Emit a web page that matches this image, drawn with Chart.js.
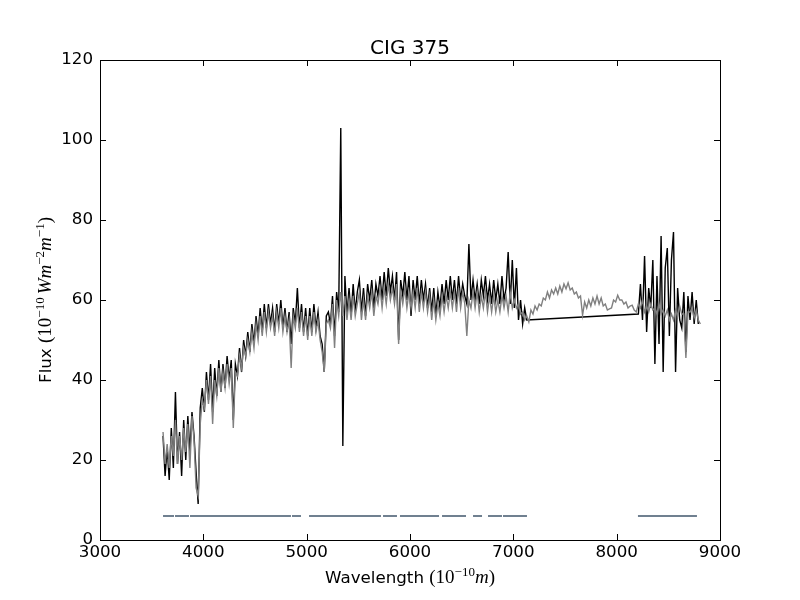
<!DOCTYPE html>
<html>
<head>
<meta charset="utf-8">
<script src="https://cdn.jsdelivr.net/npm/chart.js@4.4.1/dist/chart.umd.min.js"></script>
<style>
  html, body { margin: 0; padding: 0; background: #ffffff; }
  #c { display: block; }
</style>
</head>
<body>
<canvas id="c" width="800" height="600" style="width:800px;height:600px"></canvas>
<script>
// ---------------- DATA ----------------
const TITLE = "CIG 375";
const X_TICKS = [3000, 4000, 5000, 6000, 7000, 8000, 9000];
const Y_TICKS = [0, 20, 40, 60, 80, 100, 120];

// sampling grid of the spectra (Angstrom)
const OBS_BLUE_START = 3610;
const OBS_RED_START = 8210;
const MODEL_START = 3610;
const GRID_STEP = 20;

// observed spectrum (black), blue/visible part 3610-7130
const OBS_BLUE = [
  26, 16, 23, 15, 28, 18, 37, 19, 27, 16,
  30, 20, 31, 22, 32, 26, 17, 9, 33, 38,
  32, 42, 35, 44, 32, 43, 36, 45, 37, 44,
  38, 46, 40, 45, 30, 44, 41, 48, 42, 50,
  46, 52, 47, 54, 49, 56, 51, 58, 52, 59,
  53, 59, 54, 58, 52, 59, 54, 60, 53, 58,
  52, 57, 49, 58, 54, 63, 53, 59, 52, 58,
  51, 58, 52, 59, 53, 57, 51, 49, 42, 56,
  57, 54, 61, 51, 62, 57, 103, 23.5, 66, 56,
  63, 56, 64, 57, 62, 65, 57, 63, 56, 64,
  60, 65, 58, 64, 61, 66, 60, 67, 61, 68,
  62, 66, 60, 67, 50, 65, 61, 67, 60, 66,
  56, 65, 60, 66, 59, 65, 60, 64, 58, 63,
  57, 63, 56, 62, 58, 64, 59, 65, 60, 66,
  60, 65, 59, 66, 60, 64, 61, 59, 74, 60,
  65, 60, 64, 59, 65, 61, 66, 60, 64, 59,
  65, 60, 64, 59, 66, 60, 63, 72, 59, 70,
  58, 68, 55, 60, 54, 58, 55
];

// observed spectrum (black), red part 8210-8790
const OBS_RED = [
  56.5, 64, 55, 71, 52, 63, 58, 70, 44, 66,
  49, 76, 42, 68, 73, 51, 70, 77, 42, 63,
  55, 53, 62, 47, 61, 55, 62, 54, 60, 54
];

// model / template spectrum (gray), 3610-8810
const MODEL = [
  27, 19, 24, 18, 26, 21, 30, 19, 26, 20,
  28, 22, 29, 18, 31, 25, 13, 11, 29, 35,
  33, 40, 34, 41, 29, 40, 36, 43, 37, 42,
  38, 44, 39, 43, 28, 42, 41, 46, 43, 48,
  46, 50, 47, 52, 48, 54, 50, 56, 51, 57,
  52, 57, 53, 56, 51, 57, 53, 58, 52, 56,
  52, 55, 43, 56, 53, 58, 52, 57, 51, 56,
  50, 56, 51, 57, 52, 55, 50, 47, 42, 54,
  55, 53, 59, 48, 60, 56, 62, 56, 61, 55,
  60, 55, 61, 56, 59, 62, 55, 60, 55, 61,
  58, 62, 56, 61, 59, 63, 58, 63, 59, 64,
  60, 63, 59, 64, 49, 62, 59, 63, 58, 62,
  58, 62, 58, 63, 57, 62, 58, 62, 57, 61,
  55, 60, 55, 59, 56, 61, 57, 61, 58, 62,
  58, 62, 57, 63, 58, 62, 59, 51, 60, 58,
  62, 58, 62, 57, 61, 58, 62, 57, 61, 57,
  61, 57, 60, 57, 61, 58, 61, 57, 62, 58,
  60, 58, 59, 56.5, 57, 55, 56, 54.5, 57.5, 56.5,
  58.5, 57.5, 59, 58.5, 60.5, 60, 62, 60.5, 62.5, 61.5,
  63, 61.5, 63.5, 62, 64, 62.8, 64.3, 62.5, 63, 61.5,
  62, 60.5, 61, 56.2, 59.5, 58, 60, 58.5, 60.5, 59,
  61, 59, 60.5, 58.5, 59, 57.5, 57.8, 58, 60, 59.5,
  61.2, 60, 60, 59, 59.5, 58, 58.5, 58.7, 57.5, 57,
  59, 58, 60, 57, 58.5, 57, 59, 57.5, 58, 56.5,
  59, 56.5, 57.5, 56, 57.5, 55, 56.5, 55, 57.5, 56,
  58.5, 56.5, 56.5, 45.5, 57, 57, 58, 55.5, 57.5, 55, 54
];

// fitted-region mask segments drawn at the bottom
const MASK_START = [3610, 3726, 3871, 4858, 5023, 5739, 5903, 6310, 6610, 6755, 6900, 8206];
const MASK_END   = [3716, 3861, 4848, 4945, 5719, 5874, 6281, 6542, 6697, 6890, 7132, 8777];
const MASK_LEVEL = 6;

// ---------------- BUILD ----------------
const obsData = OBS_BLUE.map((y, i) => ({ x: OBS_BLUE_START + i * GRID_STEP, y }))
  .concat(OBS_RED.map((y, i) => ({ x: OBS_RED_START + i * GRID_STEP, y })));
const modelData = MODEL.map((y, i) => ({ x: MODEL_START + i * GRID_STEP, y }));
const maskData = [];
MASK_START.forEach((s, i) => {
  maskData.push({ x: s, y: MASK_LEVEL });
  maskData.push({ x: MASK_END[i], y: MASK_LEVEL });
  maskData.push({ x: MASK_END[i], y: null });
});

const SANS = "'DejaVu Sans', 'Noto Sans', sans-serif";
const SERIF = "'Liberation Serif', 'DejaVu Serif', serif";
const FS = 16.7;

function drawRich(ctx, parts, cx, cy, rotate) {
  ctx.save();
  ctx.translate(cx, cy);
  if (rotate) ctx.rotate(-Math.PI / 2);
  ctx.textBaseline = 'alphabetic';
  ctx.textAlign = 'left';
  ctx.fillStyle = '#000';
  let w = 0;
  parts.forEach(p => { ctx.font = p.f; p.w = ctx.measureText(p.t).width + (p.sp || 0); w += p.w; });
  let x = -w / 2;
  parts.forEach(p => { ctx.font = p.f; ctx.fillText(p.t, x, p.dy || 0); x += p.w; });
  ctx.restore();
}

const decorPlugin = {
  id: 'decor',
  afterDraw(chart) {
    const ctx = chart.ctx;
    const a = chart.chartArea;
    const xs = chart.scales.x, ys = chart.scales.y;
    ctx.save();
    ctx.strokeStyle = '#000';
    ctx.lineWidth = 1;
    ctx.strokeRect(Math.round(a.left) + 0.5, Math.round(a.top) + 0.5,
                   Math.round(a.right - a.left), Math.round(a.bottom - a.top));
    const TL = 6;
    ctx.beginPath();
    X_TICKS.forEach(v => {
      const px = Math.round(xs.getPixelForValue(v)) + 0.5;
      ctx.moveTo(px, a.bottom); ctx.lineTo(px, a.bottom - TL);
      ctx.moveTo(px, a.top); ctx.lineTo(px, a.top + TL);
    });
    Y_TICKS.forEach(v => {
      const py = Math.round(ys.getPixelForValue(v)) + 0.5;
      ctx.moveTo(a.left, py); ctx.lineTo(a.left + TL, py);
      ctx.moveTo(a.right, py); ctx.lineTo(a.right - TL, py);
    });
    ctx.stroke();

    // title
    ctx.fillStyle = '#000';
    ctx.font = `20px ${SANS}`;
    ctx.textAlign = 'center';
    ctx.textBaseline = 'alphabetic';
    ctx.fillText(TITLE, (a.left + a.right) / 2, 54);
    ctx.restore();

    const main = `${FS}px ${SANS}`;
    const ser = `19px ${SERIF}`;
    const serI = `italic 19px ${SERIF}`;
    const sup = `13px ${SERIF}`;
    // x label
    drawRich(ctx, [
      { t: 'Wavelength ', f: main },
      { t: '(10', f: ser },
      { t: '\u221210', f: sup, dy: -7 },
      { t: 'm', f: serI },
      { t: ')', f: ser }
    ], (a.left + a.right) / 2, 583, false);
    // y label
    drawRich(ctx, [
      { t: 'Flux ', f: main },
      { t: '(10', f: ser },
      { t: '\u221210', f: sup, dy: -7, sp: 3 },
      { t: 'Wm', f: serI },
      { t: '\u22122', f: sup, dy: -7 },
      { t: 'm', f: serI },
      { t: '\u22121', f: sup, dy: -7 },
      { t: ')', f: ser }
    ], 51, (a.top + a.bottom) / 2, true);
  }
};

new Chart(document.getElementById('c'), {
  type: 'line',
  data: {
    datasets: [
      { label: 'model', data: modelData, borderColor: '#808080', borderWidth: 1.4,
        pointRadius: 0, tension: 0, fill: false, order: 0 },
      { label: 'observed', data: obsData, borderColor: '#000000', borderWidth: 1.4,
        pointRadius: 0, tension: 0, fill: false, order: 1 },
      { label: 'mask', data: maskData, borderColor: '#708090', borderWidth: 2,
        pointRadius: 0, tension: 0, fill: false, spanGaps: false, order: 2 }
    ]
  },
  options: {
    responsive: false,
    animation: false,
    devicePixelRatio: 1,
    parsing: true,
    layout: { padding: { top: 60, right: 80, left: 0, bottom: 0 } },
    plugins: { legend: { display: false }, title: { display: false }, tooltip: { enabled: false } },
    scales: {
      x: {
        type: 'linear', min: 3000, max: 9000,
        grid: { display: false, drawTicks: false, tickLength: 0 },
        border: { display: false },
        ticks: { stepSize: 1000, padding: 3, color: '#000', maxRotation: 0, autoSkip: false,
                 font: { family: SANS, size: FS }, callback: v => String(v) },
        afterFit: s => { s.height = 60; s.paddingLeft = 0; s.paddingRight = 0; }
      },
      y: {
        type: 'linear', min: 0, max: 120,
        grid: { display: false, drawTicks: false, tickLength: 0 },
        border: { display: false },
        ticks: { stepSize: 20, padding: 7, color: '#000', autoSkip: false,
                 font: { family: SANS, size: FS }, callback: v => String(v) },
        afterFit: s => { s.width = 100; s.paddingTop = 0; s.paddingBottom = 0; }
      }
    }
  },
  plugins: [decorPlugin]
});
</script>
</body>
</html>
